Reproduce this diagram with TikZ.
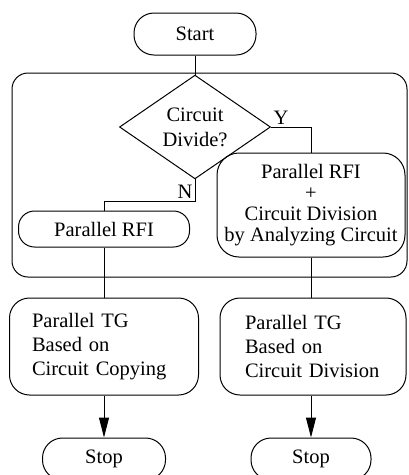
\documentclass[tikz,border=0pt]{standalone}
\usepackage{fontspec}
\setmainfont{Liberation Serif}
\usetikzlibrary{shapes.geometric,arrows.meta}

\begin{document}
\begin{tikzpicture}[x=1pt,y=-1pt,line width=1pt,
    every node/.style={font=\fontsize{20.5}{24}\selectfont},
    term/.style={draw, rounded corners=20pt, minimum width=122pt, minimum height=42pt, inner sep=0pt},
    proc/.style={draw, rounded corners=20pt, inner sep=0pt},
    decide/.style={draw, diamond, minimum width=151pt, minimum height=78pt, inner sep=0pt, align=center}]
  \useasboundingbox (0,0) rectangle (408,475);
     \node[draw, rounded corners=16pt, minimum width=395pt, minimum height=204pt, inner sep=0pt, name=grp] at (209.5,175){};
     \node[term, name=start] at (195,34){Start};
     \node[decide, name=dec] at (195,127){Circuit\\[1pt]Divide?};
     \node[proc, rounded corners=16pt, minimum width=171pt, minimum height=36pt, name=rfi] at (104,229){Parallel RFI};
     \node[proc, rounded corners=22pt, minimum width=188pt, minimum height=104pt, align=center, font=\fontsize{20.5}{21}\selectfont, name=rfidiv] at (311,205){Parallel RFI\\+\\Circuit Division\\by Analyzing Circuit};
     \node[proc, minimum width=189pt, minimum height=97pt, text width=144pt, align=left, name=tgcopy] at (104,346.5){Parallel TG\\Based on\\Circuit Copying};
     \node[proc, minimum width=186pt, minimum height=97pt, text width=136pt, align=left, name=tgdiv] at (313,346.5){Parallel TG\\Based on\\Circuit Division};
     \node[term, minimum width=123pt, name=stopl] at (104,459){Stop};
     \node[term, minimum width=120pt, name=stopr] at (311,459){Stop};
     % connectors
     \draw (start.south) -- (dec.north);
     \draw (dec.east) node[above right, inner sep=2pt]{Y} -| (rfidiv.north);
     \draw (dec.south) -- ++(0,22) node[above left, inner sep=2pt]{N} -| (rfi.north);
     \draw (rfi.south) -- (tgcopy.north);
     \draw (rfidiv.south) -- (rfidiv.south |- tgdiv.north);
     \draw[-{Triangle[length=20pt,width=10pt]}] (tgcopy.south) -- (stopl.north);
     \draw[-{Triangle[length=20pt,width=10pt]}] (tgdiv.south -| stopr.north) -- (stopr.north);
  \end{tikzpicture}
\end{document}
